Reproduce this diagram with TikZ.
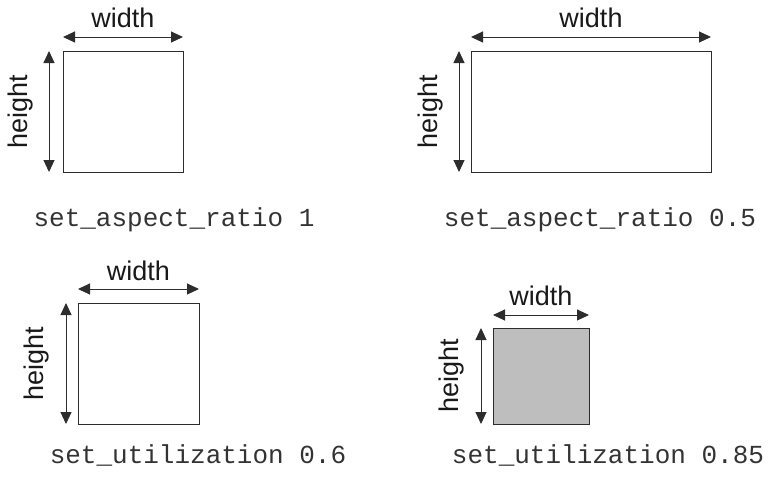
\documentclass[tikz,border=0pt]{standalone}
\usepackage{fontspec}
\setsansfont{Liberation Sans}
\setmonofont{Liberation Mono}
\usetikzlibrary{arrows.meta,positioning}
\definecolor{linegray}{RGB}{45,45,45}
\definecolor{fillgray}{RGB}{190,190,190}

\begin{document}
\begin{tikzpicture}[
  x=1pt,y=-1pt,
  every node/.style={inner sep=0pt,outer sep=0pt},
  areabox/.style={draw=linegray,line width=1pt,fill=white},
  dimarrow/.style={{Triangle[length=12pt,width=11pt]}-{Triangle[length=12pt,width=11pt]},line width=1pt,linegray},
  dimtext/.style={font=\fontsize{27}{31}\selectfont\sffamily,text=black!90},
  cmdtext/.style={font=\fontsize{26}{30}\selectfont\ttfamily,text=black!80,anchor=base},
]
  \useasboundingbox (0,0) rectangle (770,483);

  % set_aspect_ratio 1 (top left)
  \node[areabox,minimum width=120pt,minimum height=121pt] (ar1) at (123,111.5) {};
  \draw[dimarrow] ([yshift=14pt]ar1.north west) -- ([yshift=14pt]ar1.north east)
    node[midway,above=9pt,dimtext] (ar1w) {width};
  \draw[dimarrow] ([xshift=-14pt]ar1.south west) -- ([xshift=-14pt]ar1.north west)
    node[midway,sloped,above=16pt,dimtext] (ar1h) {height};
  \node[cmdtext] (ar1cmd) at (174,226) {set\_aspect\_ratio 1};

  % set_aspect_ratio 0.5 (top right)
  \node[areabox,minimum width=240pt,minimum height=121pt] (ar2) at (591,111.5) {};
  \draw[dimarrow] ([yshift=14pt]ar2.north west) -- ([yshift=14pt]ar2.north east)
    node[midway,above=9pt,dimtext] (ar2w) {width};
  \draw[dimarrow] ([xshift=-12pt]ar2.south west) -- ([xshift=-12pt]ar2.north west)
    node[midway,sloped,above=16pt,dimtext] (ar2h) {height};
  \node[cmdtext] (ar2cmd) at (600,226) {set\_aspect\_ratio 0.5};

  % set_utilization 0.6 (bottom left)
  \node[areabox,minimum width=121pt,minimum height=121pt] (ut1) at (138.5,363.5) {};
  \draw[dimarrow] ([yshift=14pt]ut1.north west) -- ([yshift=14pt]ut1.north east)
    node[midway,above=8pt,dimtext] (ut1w) {width};
  \draw[dimarrow] ([xshift=-12pt]ut1.south west) -- ([xshift=-12pt]ut1.north west)
    node[midway,sloped,above=17pt,dimtext] (ut1h) {height};
  \node[cmdtext] (ut1cmd) at (198,463) {set\_utilization 0.6};

  % set_utilization 0.85 (bottom right)
  \node[areabox,fill=fillgray,minimum width=96pt,minimum height=96pt] (ut2) at (541,376) {};
  \draw[dimarrow] ([yshift=13pt]ut2.north west) -- ([yshift=13pt]ut2.north east)
    node[midway,above=9pt,dimtext] (ut2w) {width};
  \draw[dimarrow] ([xshift=-12pt]ut2.south west) -- ([xshift=-12pt]ut2.north west)
    node[midway,sloped,above=17pt,dimtext] (ut2h) {height};
  \node[cmdtext] (ut2cmd) at (608,463) {set\_utilization 0.85};
\end{tikzpicture}
\end{document}
